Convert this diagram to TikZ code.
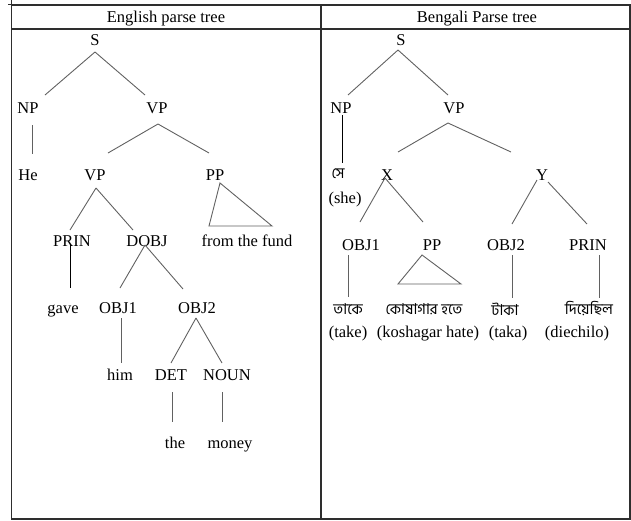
\documentclass[tikz,border=0pt]{standalone}
\usepackage{fontspec}
\setmainfont{Liberation Serif}
\newfontfamily\bn[Script=Bengali]{Hind Siliguri}
\usetikzlibrary{calc}
\begin{document}
\begin{tikzpicture}[x=1pt,y=-1pt,
  lbl/.style={inner sep=0pt, anchor=base, font=\fontsize{16.5}{19}\selectfont},
  bng/.style={inner sep=0pt, anchor=center, font=\bn\fontsize{15}{17}\selectfont},
  edge/.style={draw=black!62, line width=0.9pt},
  frame/.style={draw=black!82, line width=1.3pt}]
\useasboundingbox (0,0) rectangle (631,520);
% table
\draw[frame] (11.5,5) rectangle (630,519);
\draw[frame] (11.5,29) -- (630,29);
\draw[frame] (321,5) -- (321,519);
\draw[frame, line width=0.9pt] (8,4) -- (11,4) -- (11,0);
\node[lbl] (hE) at (166,22.5) {English parse tree};
\node[lbl] (hB) at (477,22.5) {Bengali Parse tree};
% English tree
\node[lbl] (eS) at (95,45) {S};
\node[lbl] (eNP) at (28,113) {NP};
\node[lbl] (eVP) at (157,113) {VP};
\node[lbl] (eHe) at (28,180) {He};
\node[lbl] (eVPb) at (95,180) {VP};
\node[lbl] (ePP) at (215,180) {PP};
\node[lbl] (ePRIN) at (72,246) {PRIN};
\node[lbl] (eDOBJ) at (147,246) {DOBJ};
\node[lbl] (eFund) at (247,246) {from the fund};
\node[lbl] (egave) at (63,313) {gave};
\node[lbl] (eOBJa) at (118,313) {OBJ1};
\node[lbl] (eOBJb) at (197,313) {OBJ2};
\node[lbl] (ehim) at (120,380) {him};
\node[lbl] (eDET) at (171,380) {DET};
\node[lbl] (eNOUN) at (227,380) {NOUN};
\node[lbl] (ethe) at (175,448) {the};
\node[lbl] (emoney) at (230,448) {money};
\draw[edge] ($(eS.base)+(0,7)$) -- ($(eNP.base)+(17,-18)$);
\draw[edge] ($(eS.base)+(0,7)$) -- ($(eVP.base)+(-12,-18)$);
\draw[edge] ($(eNP.base)+(4,12)$) -- ($(eHe.base)+(4,-26)$);
\draw[edge] ($(eVP.base)+(1,11)$) -- ($(eVPb.base)+(13,-27)$);
\draw[edge] ($(eVP.base)+(1,11)$) -- ($(ePP.base)+(-6,-27)$);
\draw[edge] ($(eVPb.base)+(1,8)$) -- ($(ePRIN.base)+(-2,-16)$);
\draw[edge] ($(eVPb.base)+(1,8)$) -- ($(eDOBJ.base)+(-14,-16)$);
\draw[edge] ($(ePP.base)+(5,3)$) -- ($(eFund.base)+(-38,-20)$) -- ($(eFund.base)+(25,-20)$) -- cycle;
\draw[edge, draw=black] ($(ePRIN.base)+(-2,-1)$) -- ($(egave.base)+(7,-25)$);
\draw[edge] ($(eDOBJ.base)+(-2,-1)$) -- ($(eOBJa.base)+(2,-25)$);
\draw[edge] ($(eDOBJ.base)+(-2,-1)$) -- ($(eOBJb.base)+(-14,-24)$);
\draw[edge] ($(eOBJa.base)+(3,5)$) -- ($(ehim.base)+(1,-17)$);
\draw[edge] ($(eOBJb.base)+(-1,5)$) -- ($(eDET.base)+(0,-17)$);
\draw[edge] ($(eOBJb.base)+(-1,5)$) -- ($(eNOUN.base)+(-5,-17)$);
\draw[edge] ($(eDET.base)+(1,12)$) -- ($(ethe.base)+(-3,-26)$);
\draw[edge] ($(eNOUN.base)+(-5,12)$) -- ($(emoney.base)+(-8,-26)$);
% Bengali tree
\node[lbl] (bS) at (401,45) {S};
\node[lbl] (bNP) at (341,113) {NP};
\node[lbl] (bVP) at (454,113) {VP};
\node[bng] (bSe) at (338,174) {সে};
\node[lbl] (bShe) at (345,203) {(she)};
\node[lbl] (bX) at (387,180) {X};
\node[lbl] (bY) at (542,180) {Y};
\node[lbl] (bOBJa) at (361,250) {OBJ1};
\node[lbl] (bPP) at (432,250) {PP};
\node[lbl] (bOBJb) at (506,250) {OBJ2};
\node[lbl] (bPRIN) at (588,250) {PRIN};
\node[bng] (bwa) at (348,309) {তাকে};
\node[bng] (bwb) at (424,309) {কোষাগার হতে};
\node[bng] (bwc) at (505,309) {টাকা};
\node[bng] (bwd) at (589,309) {দিয়েছিল};
\node[lbl] (bta) at (348,337) {(take)};
\node[lbl] (btb) at (428,337) {(koshagar hate)};
\node[lbl] (btc) at (508,337) {(taka)};
\node[lbl] (btd) at (577,337) {(diechilo)};
\draw[edge] ($(bS.base)+(-3,5)$) -- ($(bNP.base)+(7,-18)$);
\draw[edge] ($(bS.base)+(-3,5)$) -- ($(bVP.base)+(-6,-18)$);
\draw[edge, draw=black] ($(bNP.base)+(1,2)$) -- ($(bSe.center)+(4,-11)$);
\draw[edge] ($(bVP.base)+(-6,10)$) -- ($(bX.base)+(11,-28)$);
\draw[edge] ($(bVP.base)+(-6,10)$) -- ($(bY.base)+(-31,-28)$);
\draw[edge] ($(bX.base)+(-2,-2)$) -- ($(bOBJa.base)+(-1,-28)$);
\draw[edge] ($(bX.base)+(-2,-2)$) -- ($(bPP.base)+(-9,-28)$);
\draw[edge] ($(bY.base)+(-5,0)$) -- ($(bOBJb.base)+(6,-26)$);
\draw[edge] ($(bY.base)+(6,2)$) -- ($(bPRIN.base)+(-1,-26)$);
\draw[edge] ($(bOBJa.base)+(-13,5)$) -- ($(bwa.center)+(0,-12)$);
\draw[edge] ($(bPP.base)+(-10,5)$) -- ($(bwb.center)+(-26,-25)$) -- ($(bwb.center)+(37,-25)$) -- cycle;
\draw[edge] ($(bOBJb.base)+(6,5)$) -- ($(bwc.center)+(7,-11)$);
\draw[edge] ($(bPRIN.base)+(11,5)$) -- ($(bwd.center)+(10,-11)$);
\end{tikzpicture}
\end{document}
